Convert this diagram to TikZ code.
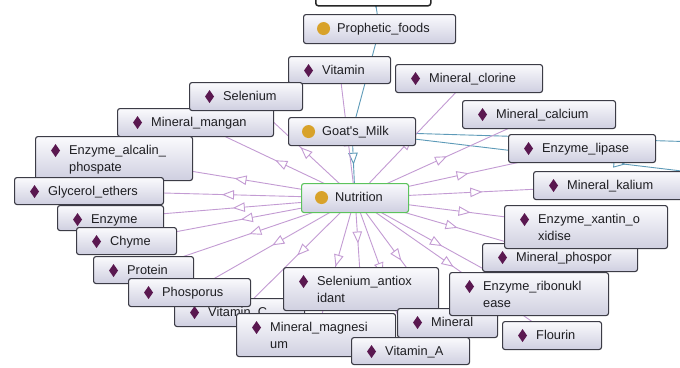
\documentclass[tikz,border=0pt]{standalone}
\usepackage{fontspec}
\setmainfont{Liberation Sans}
\usetikzlibrary{arrows.meta,decorations.markings,backgrounds}

\definecolor{boxedge}{HTML}{3C3C46}
\definecolor{boxtop}{HTML}{FAFAFD}
\definecolor{boxbot}{HTML}{CFCFE0}
\definecolor{indcol}{HTML}{5A1850}
\definecolor{clscol}{HTML}{D8A22A}
\definecolor{edgepink}{HTML}{C39BD3}
\definecolor{edgeblue}{HTML}{5D9AB8}
\definecolor{nutgreen}{HTML}{5CC35C}
\definecolor{txtcol}{HTML}{1E1E22}

\tikzset{
  frame/.style={draw=boxedge, line width=1.1pt, rounded corners=2.5pt,
    anchor=north west, inner sep=0pt},
  box/.style={frame, top color=boxtop, bottom color=boxbot},
  indiv/.style={box, path picture={\fill[indcol, sharp corners]
    ([xshift=20pt,yshift=-14pt]path picture bounding box.north west)
    ++(0,-6.5) -- ++(4.5,6.5) -- ++(-4.5,6.5) -- ++(-4.5,-6.5) -- cycle;}},
  klass/.style={box, path picture={\fill[clscol]
    ([xshift=20pt,yshift=-14pt]path picture bounding box.north west)
    circle[radius=6.5pt];}},
  lbl/.style={anchor=north west, inner sep=0pt, align=left, text=txtcol,
    font=\fontsize{12.8}{17}\selectfont},
  isa/.style={draw=edgepink, line width=0.9pt, postaction={decorate},
    decoration={markings, mark=at position 0.5 with
      {\arrow[edgepink, line width=0.9pt]{Triangle[length=12pt,width=9.5pt,fill=white]}}}},
  rel/.style={draw=edgeblue, line width=0.9pt, postaction={decorate},
    decoration={markings, mark=at position 0.5 with
      {\arrow[edgeblue, line width=0.9pt]{Triangle[length=12pt,width=9.5pt,fill=white]}}}},
}

% box with icon and label: name, style, x1, y1, x2, y2, text
% the label's first line carries a fixed-height strut, so its top sits
% 10pt above the first baseline
\newcommand\entitybox[7]{%
  \node[#2, minimum width={#5-#3}, minimum height={#6-#4}] (#1) at (#3,#4) {};
  \node[lbl] (#1-t) at ([xshift=34pt,yshift=-8.5pt]#1.north west)
    {\rule{0pt}{10pt}#7};
}

\begin{document}
\begin{tikzpicture}[x=1pt, y=-1pt]
\useasboundingbox (0,0) rectangle (680,367);

\node[frame, draw=black!85, line width=1.5pt, fill=white,
  minimum width=115, minimum height=35] (topbox) at (315,-30) {};
\entitybox{proph}{klass}{303}{14}{455}{43}{Prophetic\_foods}
\entitybox{vit}{indiv}{288}{56}{390}{83}{Vitamin}
\entitybox{clor}{indiv}{395}{64}{542}{92}{Mineral\_clorine}
\entitybox{mang}{indiv}{117}{108}{273}{136}{Mineral\_mangan}
\entitybox{sel}{indiv}{189}{82}{302}{110}{Selenium}
\entitybox{goat}{klass}{288}{117}{415}{145}{Goat\textquotesingle s\_Milk}
\entitybox{calc}{indiv}{462}{100}{615}{128}{Mineral\_calcium}
\entitybox{lip}{indiv}{508}{134}{655}{162}{Enzyme\_lipase}
\entitybox{kal}{indiv}{533}{171}{685}{199}{Mineral\_kalium}
\entitybox{alca}{indiv}{35}{136}{192}{180}{Enzyme\_alcalin\_\\phospate}
\entitybox{glyc}{indiv}{14}{177}{163}{204}{Glycerol\_ethers}
\entitybox{enz}{indiv}{57}{205}{163}{230}{Enzyme}
\entitybox{chy}{indiv}{76}{227}{176}{254}{Chyme}
\entitybox{prot}{indiv}{93}{256}{193}{283}{Protein}
\entitybox{vitc}{indiv}{174}{298}{304}{326}{Vitamin\_C}
\entitybox{phos}{indiv}{128}{278}{250}{306}{Phosporus}
\entitybox{selant}{indiv}{283}{267}{438}{310}{Selenium\_antiox\\idant}
\entitybox{magn}{indiv}{236}{313}{395}{356}{Mineral\_magnesi\\um}
\entitybox{minr}{indiv}{397}{308}{497}{337}{Mineral}
\entitybox{ribo}{indiv}{449}{272}{608}{315}{Enzyme\_ribonukl\\ease}
\entitybox{vita}{indiv}{351}{337}{469}{364}{Vitamin\_A}
\entitybox{phosp}{indiv}{482}{243}{637}{271}{Mineral\_phospor}
\entitybox{xan}{indiv}{504}{205}{667}{248}{Enzyme\_xantin\_o\\xidise}
\entitybox{flou}{indiv}{502}{321}{601}{349}{Flourin}
\entitybox{nutr}{klass,draw=nutgreen}{301}{183}{408}{212}{Nutrition}

\coordinate (offA) at (900,148);
\coordinate (offB) at (899,197);

\begin{pgfonlayer}{background}
  \fill[white] (0,0) rectangle (680,367);
  % links between classes
  \path[rel] (topbox.center) -- (proph.center);
  \path[rel] (proph.center) -- (goat.center);
  \path[rel] (goat.center) -- (nutr.center);
  \path[rel] (goat.center) -- (offA);
  \path[rel] (goat.center) -- (offB);
  % individuals of Nutrition
  \foreach \t in {vit,clor,sel,mang,calc,alca,lip,glyc,kal,enz,xan,chy,
                  phosp,prot,selant,ribo,phos,vitc,magn,minr,vita,flou}
    \path[isa] (nutr.center) -- (\t.center);
\end{pgfonlayer}
\end{tikzpicture}
\end{document}
